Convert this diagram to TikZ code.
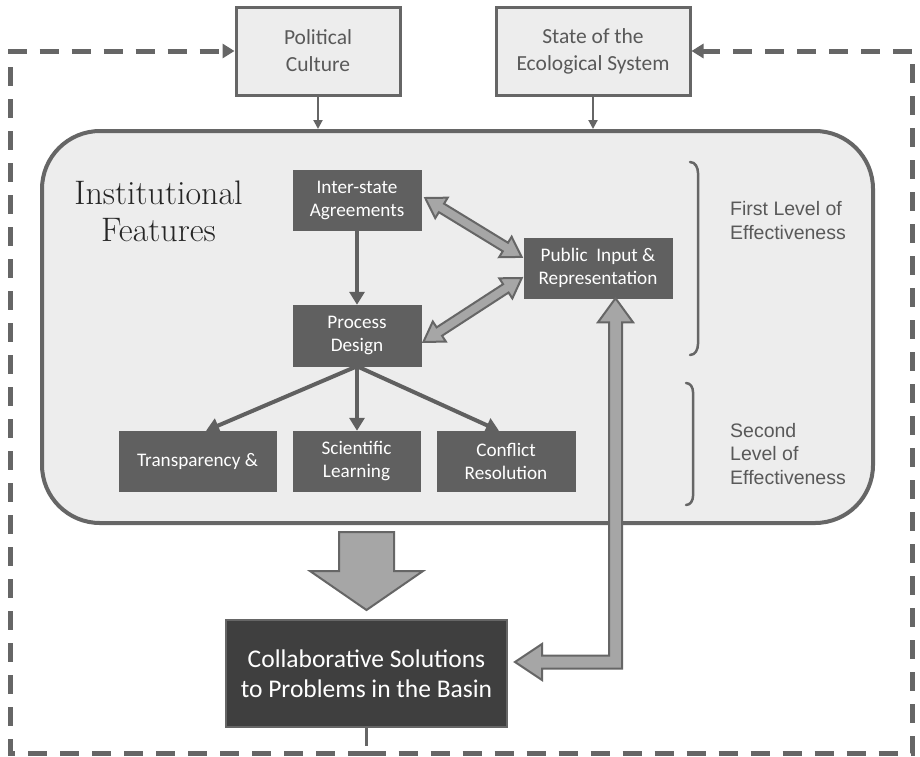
\documentclass[tikz,border=0pt]{standalone}
\usepackage{fontspec}
\newfontfamily\carl{Carlito}
\newfontfamily\lvlfont{Liberation Sans}
\usetikzlibrary{arrows.meta,calc}
\definecolor{edge}{HTML}{666666}
\definecolor{lightfill}{HTML}{EDEDED}
\definecolor{darkfill}{HTML}{606060}
\definecolor{collabfill}{HTML}{3F3F3F}
\definecolor{fatfill}{HTML}{A6A6A6}
\definecolor{txtgray}{HTML}{595959}
\definecolor{titlecol}{HTML}{262626}
\newcommand\fatdbl[2]{%
\path[fatarrow] let \p1=($(#2)-(#1)$), \n1={veclen(\x1,\y1)}, \n2={atan2(\y1,\x1)} in
  [shift={(#1)}, rotate=\n2]
  (0pt,0pt) -- (19pt,12pt) -- (19pt,5pt) -- (\n1-19pt,5pt) -- (\n1-19pt,12pt) -- (\n1,0pt)
  -- (\n1-19pt,-12pt) -- (\n1-19pt,-5pt) -- (19pt,-5pt) -- (19pt,-12pt) -- cycle;}
\begin{document}
\begin{tikzpicture}[x=1pt,y=-1pt,
  topbox/.style={draw=edge, line width=3pt, fill=lightfill, text=txtgray, align=center,
    inner sep=0pt, font=\carl\fontsize{21.5}{27}\selectfont, minimum height=88pt},
  darkbox/.style={fill=darkfill, draw=darkfill, line width=0.5pt, text=white, align=center,
    inner sep=0pt, font=\carl\fontsize{19.2}{23}\selectfont, minimum height=60pt},
  bigbox/.style={draw=edge, line width=4pt, fill=lightfill, rounded corners=58pt},
  collabbox/.style={draw=edge, line width=2pt, fill=collabfill, text=white, align=center,
    inner sep=0pt, font=\carl\fontsize{25.5}{30}\selectfont},
  fatarrow/.style={draw=edge, fill=fatfill, line width=2pt, line join=miter},
  thinarrow/.style={draw=edge, line width=2pt, -{Triangle[length=9pt,width=9pt]}},
  innerarrow/.style={draw=darkfill, line width=4pt, -{Triangle[length=13pt,width=15pt]}},
  feedback/.style={draw=edge, line width=5pt, dash pattern=on 19pt off 13pt,
    -{Triangle[length=12pt,width=14pt]}},
  bracket/.style={draw=edge, line width=2.5pt, line cap=round},
  lvl/.style={anchor=west, align=left, text=txtgray, inner sep=0pt,
    font=\lvlfont\fontsize{19.5}{23.5}\selectfont},
  titletext/.style={align=center, text=titlecol, inner sep=0pt,
    font=\rmfamily\addfontfeatures{FakeBold=0.6}\fontsize{34}{37}\selectfont}
]
\fill[white] (0,0) rectangle (920,756);
\useasboundingbox (0,0) rectangle (920,756);

% big rounded box
\node[bigbox, minimum width=831pt, minimum height=392pt] (ib) at (457.5,327) {};

% top boxes
\node[topbox, minimum width=164pt] (pc) at (318,51) {Political\\Culture};
\node[topbox, minimum width=194pt] (st) at (593,51) {State of the\\Ecological System};

% inner boxes
\node[darkbox, minimum width=128pt] (ia) at (357,200) {Inter-state\\Agreements};
\node[darkbox, minimum width=128pt, minimum height=61pt] (pd) at (357,335.5) {Process\\Design};
\node[darkbox, minimum width=148pt] (pub) at (598,268) {Public~~Input \&\\Representation};
\node[darkbox, minimum width=157pt] (tr) at (197.5,461) {Transparency \&};
\node[darkbox, minimum width=127pt] (sci) at (356.5,461) {Scientific\\Learning};
\node[darkbox, minimum width=138pt] (con) at (506,461) {Conflict\\Resolution};

% collaborative box
\node[collabbox, minimum width=281pt, minimum height=107pt] (cl) at (366.5,673.5)
  {Collaborative Solutions\\to Problems in the Basin};

% title
\node[titletext] (title) at (158.5,211) {Institutional\\Features};

% level labels
\node[lvl] (lv1) at (730,220.5) {First Level of\\Effectiveness};
\node[lvl] (lv2) at (730,454) {Second\\Level of\\Effectiveness};

% brackets
\draw[bracket] (690,162) to[out=0,in=90] (698,173) -- (698,344) to[out=-90,in=0] (690,355);
\draw[bracket] (686,383) to[out=0,in=90] (693,392) -- (693,496) to[out=-90,in=0] (686,505);

% top arrows
\draw[thinarrow] (pc.south) -- (pc.south |- ib.north);
\draw[thinarrow] (st.south) -- (st.south |- ib.north);

% inner arrows
\draw[innerarrow] (ia.south) -- (pd.north);
\draw[innerarrow] (pd.south) -- ($(tr.north)+(8.5,0)$);
\draw[innerarrow] (pd.south) -- (sci.north -| pd.south);
\draw[innerarrow] (pd.south) -- ($(con.north)+(-7,0)$);

% fat double arrows
\coordinate (u1) at ($(ia.east)+(4,-2)$);
\coordinate (u2) at ($(pub.west)+(-2,-11)$);
\coordinate (l1) at ($(pub.west)+(-2,10)$);
\coordinate (l2) at ($(pd.east)+(2,6.5)$);
\fatdbl{u1}{u2}
\fatdbl{l1}{l2}

% L-shaped fat arrow between public input and collaborative box
\coordinate (ptip) at ($(pub.south)+(17.5,0)$);
\coordinate (ctip) at ($(cl.east)+(7,-11.5)$);
\path[fatarrow] (ptip) -- ($(ptip)+(17.5,24)$) -- ($(ptip)+(6.5,24)$)
  -- ($(ptip |- ctip)+(6.5,6.5)$) -- ($(ctip)+(27,6.5)$) -- ($(ctip)+(27,18)$)
  -- (ctip) -- ($(ctip)+(27,-18)$) -- ($(ctip)+(27,-6.5)$)
  -- ($(ptip |- ctip)+(-6.5,-6.5)$) -- ($(ptip)+(-6.5,24)$) -- ($(ptip)+(-17.5,24)$) -- cycle;

% big down arrow
\coordinate (dtip) at ($(cl.north)+(0,-9)$);
\path[fatarrow] (dtip) -- ($(dtip)+(56.5,-39)$) -- ($(dtip)+(27.5,-39)$) -- ($(dtip)+(27.5,-78)$)
  -- ($(dtip)+(-27.5,-78)$) -- ($(dtip)+(-27.5,-39)$) -- ($(dtip)+(-56.5,-39)$) -- cycle;

% feedback loop
\coordinate (bm) at (366.5,753);
\coordinate (bl) at (10,753);
\coordinate (br) at (912,753);
\coordinate (tl) at (10,51);
\coordinate (tr2) at (912,51);
\draw[edge, line width=3pt] (cl.south) -- ++(0,18);
\draw[feedback] (bm) -- (bl) -- (tl) -- (pc.west);
\draw[feedback] (bm) -- (br) -- (tr2) -- (st.east);
\end{tikzpicture}
\end{document}
